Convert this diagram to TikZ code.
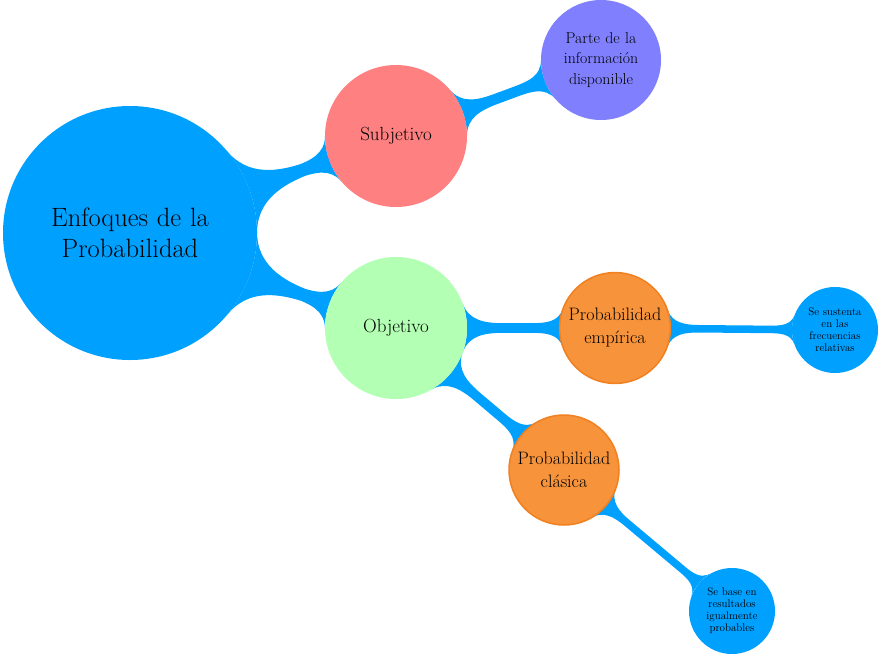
\documentclass[tikz,border=0pt]{standalone}
\usetikzlibrary{mindmap}
\definecolor{azzurro}{RGB}{0,160,255}
\definecolor{rosa}{RGB}{255,128,128}
\definecolor{verdino}{RGB}{179,255,179}
\definecolor{lilla}{RGB}{128,128,255}
\definecolor{arancio}{RGB}{247,147,58}
\definecolor{arancioscuro}{RGB}{240,128,32}
\tikzset{
    idea/.style={concept, concept color=azzurro, draw=none, text=black, inner sep=0pt, align=center},
    root idea/.style={idea, minimum size=254pt, text width=210pt, font=\fontsize{26.5}{31}\selectfont},
    main idea/.style={idea, minimum size=142pt, text width=120pt, font=\fontsize{19}{23}\selectfont},
    info idea/.style={idea, fill=lilla, minimum size=120pt, text width=100pt, font=\fontsize{15.8}{20.5}\selectfont},
    prob idea/.style={idea, fill=arancio, draw=arancioscuro, line width=1.5pt, minimum size=110pt, text width=104pt, font=\fontsize{18}{23}\selectfont},
    leaf idea/.style={idea, minimum size=86pt, text width=70pt, font=\fontsize{11}{12}\selectfont},
    link/.style={circle connection bar switch color=from (azzurro) to (azzurro)},
    thin link/.style={link, decoration={amplitude=4pt}},
}
\pgfdeclarelayer{background}
\pgfsetlayers{background,main}

\begin{document}
\begin{tikzpicture}[x=1pt, y=1pt, mindmap]
    \useasboundingbox (0,0) rectangle (890,-664);

    \node[root idea] (enfoques) at (130,-233) {Enfoques de la\\Probabilidad};
    \node[main idea, fill=rosa] (subjetivo) at (396,-136) {Subjetivo};
    \node[main idea, fill=verdino] (objetivo) at (396,-328) {Objetivo};
    \node[info idea] (parte) at (601,-60) {Parte de la\\información\\disponible};
    \node[prob idea] (empirica) at (615,-328) {Probabilidad\\empírica};
    \node[prob idea] (clasica) at (564,-470) {Probabilidad\\clásica};
    \node[leaf idea] (frecuencias) at (835,-330) {Se sustenta\\en las\\frecuencias\\relativas};
    \node[leaf idea] (resultados) at (732,-611) {Se base en\\resultados\\igualmente\\probables};

    \begin{pgfonlayer}{background}
    \path (enfoques) to[link] (subjetivo);
    \path (enfoques) to[link] (objetivo);
    \path (subjetivo) to[link] (parte);
    \path (objetivo) to[link] (empirica);
    \path (objetivo) to[link] (clasica);
    \path (empirica) to[thin link] (frecuencias);
    \path (clasica) to[thin link] (resultados);
    \end{pgfonlayer}

\end{tikzpicture}
\end{document}
